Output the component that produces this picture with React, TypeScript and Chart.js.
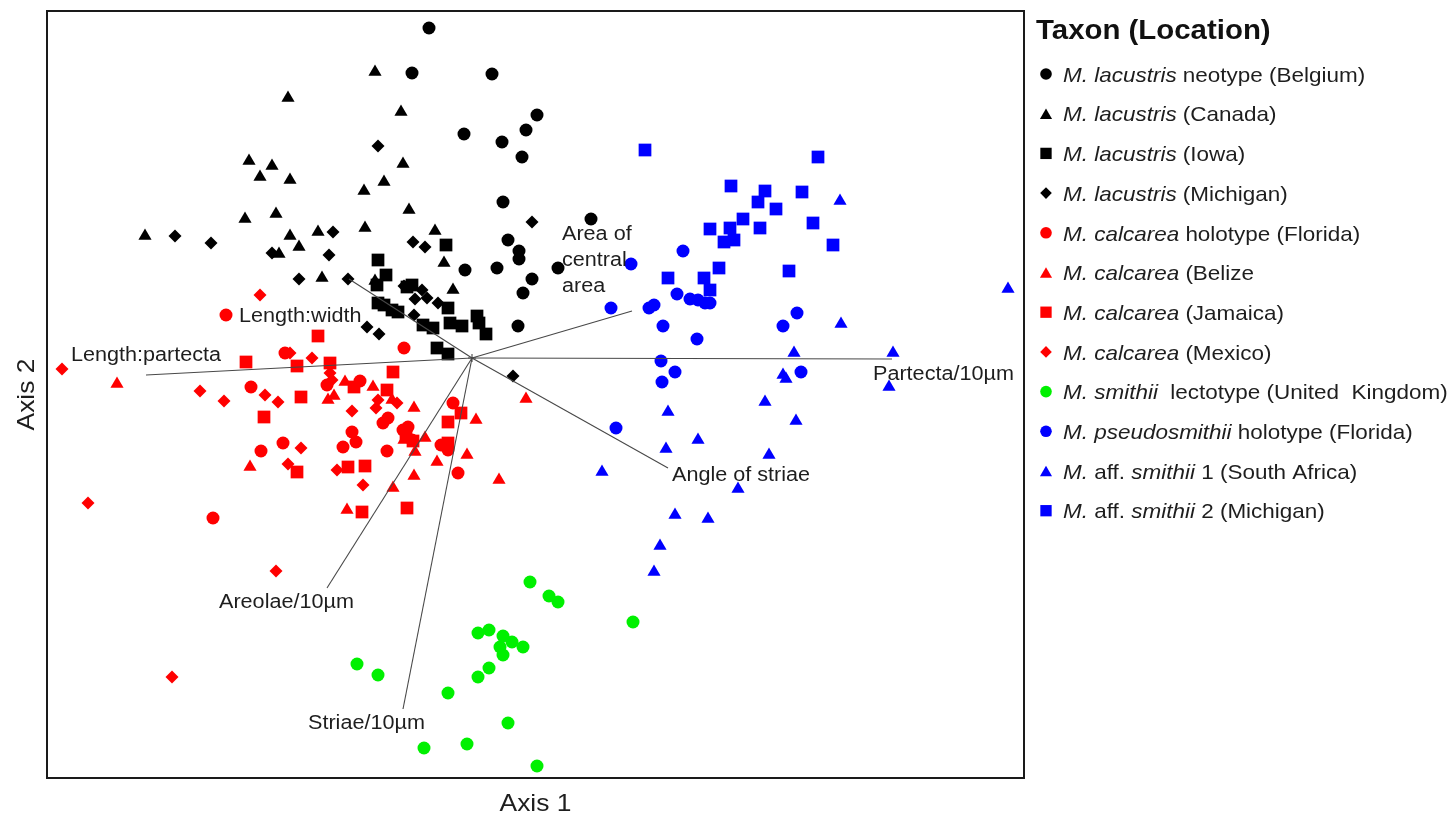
import React, { useEffect, useRef } from "react";
import { Chart, registerables } from "chart.js";

Chart.register(...registerables);

const FONT = '"Liberation Sans", Arial, Helvetica, sans-serif';

type Pt = [number, number];

// Ordination scores (Axis 1, Axis 2) per specimen group
const lacustrisBelgium: Pt[] = [
  [-0.43, 3.30], [-0.60, 2.85], [0.20, 2.84], [0.65, 2.43], [0.54, 2.28], [-0.08, 2.24],
  [0.30, 2.16], [0.50, 2.01], [0.31, 1.56], [1.19, 1.39], [0.36, 1.18], [0.47, 1.07],
  [0.47, 0.99], [0.25, 0.90], [-0.07, 0.88], [0.86, 0.90], [0.60, 0.79], [0.51, 0.65],
  [0.46, 0.32],
];
const lacustrisCanada: Pt[] = [
  [-0.97, 2.86], [-1.84, 2.60], [-0.71, 2.46], [-2.23, 1.97], [-2.00, 1.92], [-2.12, 1.81],
  [-1.82, 1.78], [-1.08, 1.67], [-0.69, 1.94], [-0.88, 1.76], [-0.63, 1.48], [-2.27, 1.39],
  [-1.96, 1.44], [-1.07, 1.30], [-0.37, 1.27], [-1.54, 1.26], [-1.82, 1.22], [-1.73, 1.11],
  [-1.93, 1.04], [-3.27, 1.22], [-0.28, 0.95], [-0.19, 0.68], [-1.50, 0.80], [-0.97, 0.77],
];
const lacustrisIowa: Pt[] = [
  [-0.26, 1.13], [-0.94, 0.98], [-0.86, 0.83], [-0.95, 0.73], [-0.65, 0.71], [-0.60, 0.73],
  [-0.94, 0.55], [-0.88, 0.53], [-0.80, 0.48], [-0.74, 0.46], [-0.24, 0.50], [-0.49, 0.33],
  [-0.39, 0.30], [-0.22, 0.35], [-0.10, 0.32], [0.05, 0.42], [0.07, 0.35], [0.14, 0.24],
  [-0.35, 0.10], [-0.24, 0.04],
];
const lacustrisMichigan: Pt[] = [
  [-2.97, 1.22], [-2.61, 1.15], [-1.39, 1.26], [-2.00, 1.05], [-1.43, 1.03], [-0.94, 2.12],
  [0.60, 1.36], [-0.59, 1.16], [-0.47, 1.11], [-1.73, 0.79], [-1.24, 0.79], [-0.68, 0.72],
  [-0.50, 0.68], [-0.57, 0.59], [-0.45, 0.60], [-0.34, 0.55], [-0.58, 0.43], [-1.05, 0.31],
  [-0.93, 0.24], [0.41, -0.18],
];
const calcareaFlorida: Pt[] = [
  [-2.46, 0.43], [-1.87, 0.05], [-0.68, 0.10], [-2.21, -0.29], [-1.45, -0.27], [-1.12, -0.23],
  [-1.20, -0.74], [-1.16, -0.84], [-1.29, -0.89], [-1.89, -0.85], [-2.11, -0.93], [-0.85, -0.93],
  [-0.84, -0.60], [-0.89, -0.65], [-0.64, -0.69], [-0.69, -0.72], [-0.60, -0.82], [-0.19, -0.45],
  [-0.31, -0.87], [-0.24, -0.92], [-0.14, -1.15], [-2.59, -1.60],
];
const calcareaBelize: Pt[] = [
  [-3.55, -0.26], [-2.22, -1.09], [-1.27, -0.24], [-0.99, -0.29], [-1.38, -0.38], [-1.44, -0.42],
  [-1.25, -1.52], [-0.58, -0.50], [-0.47, -0.80], [-0.57, -0.94], [-0.35, -1.04], [-0.58, -1.18],
  [-0.79, -1.30], [0.04, -0.62], [-0.05, -0.97], [0.27, -1.22], [0.54, -0.41], [-0.80, -0.42],
  [-0.68, -0.82],
];
const calcareaJamaica: Pt[] = [
  [-1.54, 0.22], [-2.26, -0.04], [-1.75, -0.08], [-1.42, -0.05], [-1.71, -0.39], [-2.08, -0.59],
  [-1.18, -0.29], [-0.85, -0.32], [-0.79, -0.14], [-1.24, -1.09], [-1.07, -1.08], [-1.75, -1.14],
  [-1.10, -1.54], [-0.65, -1.50], [-0.24, -0.64], [-0.11, -0.55], [-0.24, -0.85], [-0.66, -0.78],
  [-0.59, -0.83],
];
const calcareaMexico: Pt[] = [
  [-2.12, 0.63], [-4.10, -0.11], [-2.72, -0.33], [-2.48, -0.43], [-2.07, -0.37], [-1.94, -0.44],
  [-1.60, 0.00], [-1.82, 0.05], [-1.42, -0.15], [-1.40, -0.22], [-1.20, -0.53], [-0.94, -0.42],
  [-0.96, -0.50], [-0.75, -0.45], [-1.71, -0.90], [-1.84, -1.06], [-1.35, -1.12], [-1.09, -1.27],
  [-3.84, -1.45], [-1.96, -2.13], [-3.00, -3.19],
];
const smithiiUK: Pt[] = [
  [-1.15, -3.06], [-0.94, -3.17], [0.58, -2.24], [0.77, -2.38], [0.86, -2.44], [1.61, -2.64],
  [0.06, -2.75], [0.17, -2.72], [0.31, -2.78], [0.40, -2.84], [0.51, -2.89], [0.28, -2.89],
  [0.31, -2.97], [0.17, -3.10], [0.06, -3.19], [-0.24, -3.35], [0.36, -3.65], [-0.48, -3.90],
  [-0.05, -3.86], [0.65, -4.08],
];
const pseudosmithiiFlorida: Pt[] = [
  [2.11, 1.07], [1.59, 0.94], [1.39, 0.50], [1.77, 0.50], [1.82, 0.53], [1.91, 0.32],
  [2.05, 0.64], [2.18, 0.59], [2.26, 0.58], [2.33, 0.55], [2.38, 0.55], [2.25, 0.19],
  [1.89, -0.03], [2.03, -0.14], [1.90, -0.24], [1.44, -0.70], [3.25, 0.45], [3.11, 0.32],
  [3.29, -0.14],
];
const affSmithii1SouthAfrica: Pt[] = [
  [3.68, 1.57], [5.36, 0.69], [3.69, 0.34], [3.22, 0.05], [4.21, 0.05], [3.11, -0.17],
  [3.14, -0.21], [4.17, -0.29], [2.93, -0.44], [3.24, -0.63], [2.97, -0.97], [2.66, -1.31],
  [2.36, -1.61], [1.96, -0.54], [2.26, -0.82], [1.94, -0.91], [1.30, -1.14], [2.03, -1.57],
  [1.88, -1.88], [1.82, -2.14],
];
const affSmithii2Michigan: Pt[] = [
  [1.73, 2.08], [3.46, 2.01], [2.59, 1.72], [2.93, 1.67], [3.30, 1.66], [2.86, 1.56],
  [3.04, 1.49], [2.71, 1.39], [2.38, 1.29], [2.58, 1.30], [2.88, 1.30], [3.41, 1.35],
  [2.52, 1.16], [2.62, 1.18], [3.61, 1.13], [2.47, 0.90], [3.17, 0.87], [1.96, 0.80],
  [2.32, 0.80], [2.38, 0.68],
];

// Legend names: [text, italic] runs
type Run = [string, boolean];
const taxonNames: Run[][] = [
  [["M. lacustris", true], [" neotype (Belgium)", false]],
  [["M. lacustris", true], [" (Canada)", false]],
  [["M. lacustris", true], [" (Iowa)", false]],
  [["M. lacustris", true], [" (Michigan)", false]],
  [["M. calcarea", true], [" holotype (Florida)", false]],
  [["M. calcarea", true], [" (Belize", false]],
  [["M. calcarea", true], [" (Jamaica)", false]],
  [["M. calcarea", true], [" (Mexico)", false]],
  [["M. smithii", true], ["  lectotype (United  Kingdom)", false]],
  [["M. pseudosmithii", true], [" holotype (Florida)", false]],
  [["M.", true], [" aff. ", false], ["smithii", true], [" 1 (South Africa)", false]],
  [["M.", true], [" aff. ", false], ["smithii", true], [" 2 (Michigan)", false]],
];
const taxonData: Pt[][] = [
  lacustrisBelgium, lacustrisCanada, lacustrisIowa, lacustrisMichigan,
  calcareaFlorida, calcareaBelize, calcareaJamaica, calcareaMexico,
  smithiiUK, pseudosmithiiFlorida, affSmithii1SouthAfrica, affSmithii2Michigan,
];
const taxonColors = [
  "#000000", "#000000", "#000000", "#000000",
  "#FF0000", "#FF0000", "#FF0000", "#FF0000",
  "#00F000", "#0000FF", "#0000FF", "#0000FF",
];
const taxonShapes = [
  "circle", "triangle", "rect", "rectRot",
  "circle", "triangle", "rect", "rectRot",
  "circle", "circle", "triangle", "rect",
];

// Biplot vectors of the morphometric variables
const vectorNames = [
  "Length:partecta", "Length:width", "Area of central area", "Partecta/10µm",
  "Angle of striae", "Areolae/10µm", "Striae/10µm",
];
const vectorX = [-3.26, -1.23, 1.60, 4.20, 1.96, -1.45, -0.69];
const vectorY = [-0.17, 0.79, 0.47, -0.01, -1.10, -2.30, -3.51];

const shapeRadius: Record<string, number> = { circle: 6.5, triangle: 7.6, rect: 9, rectRot: 6.5 };

function shapePath(ctx: CanvasRenderingContext2D, shape: string, x: number, y: number, r: number) {
  ctx.beginPath();
  if (shape === "triangle") {
    ctx.moveTo(x, y - r);
    ctx.lineTo(x + r * 0.866, y + r / 2);
    ctx.lineTo(x - r * 0.866, y + r / 2);
  } else if (shape === "rect") {
    const s = r * Math.SQRT1_2;
    ctx.rect(x - s, y - s, 2 * s, 2 * s);
  } else if (shape === "rectRot") {
    ctx.moveTo(x - r, y);
    ctx.lineTo(x, y - r);
    ctx.lineTo(x + r, y);
    ctx.lineTo(x, y + r);
  } else {
    ctx.arc(x, y, r, 0, Math.PI * 2);
  }
  ctx.closePath();
}

function stretchedText(ctx: CanvasRenderingContext2D, text: string, x: number, y: number, sx: number) {
  ctx.save();
  ctx.translate(x, y);
  ctx.scale(sx, 1);
  ctx.fillText(text, 0, 0);
  const w = ctx.measureText(text).width * sx;
  ctx.restore();
  return w;
}

// Label placement relative to each vector tip (px)
const vectorLabelLayout = [
  { lines: ["Length:partecta"], dx: -75, dy: -21 },
  { lines: ["Length:width"], dx: -110, dy: 36 },
  { lines: ["Area of", "central", "area"], dx: -70, dy: -78 },
  { lines: ["Partecta/10µm"], dx: -19, dy: 14 },
  { lines: ["Angle of striae"], dx: 4, dy: 6 },
  { lines: ["Areolae/10µm"], dx: -108, dy: 13 },
  { lines: ["Striae/10µm"], dx: -95, dy: 13 },
];

const biplotPlugin = {
  id: "biplot",
  afterDatasetsDraw(chart: any) {
    const ctx: CanvasRenderingContext2D = chart.ctx;
    const xs = chart.scales.x;
    const ys = chart.scales.y;
    const ox = xs.getPixelForValue(0);
    const oy = ys.getPixelForValue(0);
    const area = chart.chartArea;

    // variable vectors
    ctx.save();
    ctx.strokeStyle = "#484848";
    ctx.lineWidth = 1.1;
    vectorNames.forEach((_, i) => {
      ctx.beginPath();
      ctx.moveTo(ox, oy);
      ctx.lineTo(xs.getPixelForValue(vectorX[i]), ys.getPixelForValue(vectorY[i]));
      ctx.stroke();
    });
    // small star at the origin
    ctx.beginPath();
    ctx.moveTo(ox - 4, oy);
    ctx.lineTo(ox + 4, oy);
    ctx.moveTo(ox, oy - 4);
    ctx.lineTo(ox, oy + 4);
    ctx.stroke();

    ctx.fillStyle = "#1e1e1e";
    ctx.font = `20px ${FONT}`;
    ctx.textBaseline = "alphabetic";
    vectorNames.forEach((_, i) => {
      const lay = vectorLabelLayout[i];
      const tx = xs.getPixelForValue(vectorX[i]);
      const ty = ys.getPixelForValue(vectorY[i]);
      lay.lines.forEach((ln, k) => {
        stretchedText(ctx, ln, tx + lay.dx, ty + lay.dy + k * 26 + 7.2, 1.08);
      });
    });
    ctx.restore();

    // frame
    ctx.save();
    ctx.strokeStyle = "#1a1a1a";
    ctx.lineWidth = 2;
    ctx.strokeRect(area.left, area.top, area.right - area.left, area.bottom - area.top);
    ctx.restore();

    // axis titles
    ctx.save();
    ctx.fillStyle = "#1e1e1e";
    ctx.font = `24px ${FONT}`;
    ctx.textBaseline = "alphabetic";
    const t1 = "Axis 1";
    const w1 = ctx.measureText(t1).width * 1.1;
    stretchedText(ctx, t1, (area.left + area.right) / 2 - w1 / 2, area.bottom + 33, 1.1);
    ctx.translate(area.left - 13, (area.top + area.bottom) / 2);
    ctx.rotate(-Math.PI / 2);
    const t2 = "Axis 2";
    const w2 = ctx.measureText(t2).width * 1.1;
    stretchedText(ctx, t2, -w2 / 2, 0, 1.1);
    ctx.restore();

    // legend
    ctx.save();
    const lx = area.right + 12;
    ctx.fillStyle = "#111111";
    ctx.font = `bold 28px ${FONT}`;
    stretchedText(ctx, "Taxon (Location)", lx, area.top + 27.5, 1.05);
    const legendR: Record<string, number> = { circle: 5.8, triangle: 7, rect: 8, rectRot: 5.8 };
    taxonNames.forEach((runs, i) => {
      const cy = area.top + 63 + i * 39.7;
      const shape = taxonShapes[i];
      const r = legendR[shape];
      ctx.fillStyle = taxonColors[i];
      shapePath(ctx, shape, lx + 10, cy + (shape === "triangle" ? r / 4 : 0), r);
      ctx.fill();
      let x = lx + 27;
      ctx.fillStyle = "#1e1e1e";
      runs.forEach(([text, italic]) => {
        ctx.font = `${italic ? "italic " : ""}21px ${FONT}`;
        x += stretchedText(ctx, text, x, cy + 7.7, 1.07);
      });
    });
    ctx.restore();
  },
};

export default function App() {
  const canvasRef = useRef<HTMLCanvasElement | null>(null);

  useEffect(() => {
    if (!canvasRef.current) return;
    const datasets = taxonData.map((pts, i) => ({
      label: taxonNames[i].map((r) => r[0]).join(""),
      data: pts.map(([x, y]) => ({ x, y })),
      pointStyle: taxonShapes[i] as any,
      pointRadius: shapeRadius[taxonShapes[i]],
      pointHoverRadius: shapeRadius[taxonShapes[i]],
      backgroundColor: taxonColors[i],
      borderColor: taxonColors[i],
      borderWidth: 0,
      showLine: false,
    }));
    const chart = new Chart(canvasRef.current, {
      type: "scatter",
      data: { datasets },
      options: {
        animation: false,
        responsive: false,
        layout: { padding: { left: 47, top: 11, right: 426, bottom: 41 } },
        scales: {
          x: { type: "linear", min: -4.25, max: 5.52, display: false },
          y: { type: "linear", min: -4.2, max: 3.47, display: false },
        },
        plugins: {
          legend: { display: false },
          tooltip: { enabled: false },
        },
      },
      plugins: [biplotPlugin],
    });
    return () => chart.destroy();
  }, []);

  return (
    <div style={{ position: "absolute", left: 0, top: 0, width: 1450, height: 819, background: "#ffffff" }}>
      <canvas ref={canvasRef} width={1450} height={819} />
    </div>
  );
}
